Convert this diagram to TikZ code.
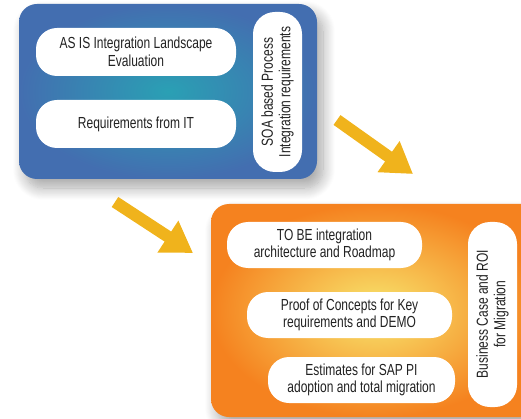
\documentclass[tikz,border=0pt]{standalone}
\usepackage{fontspec}
\setmainfont[FakeStretch=0.75]{Liberation Sans}
\usetikzlibrary{arrows.meta,shadows.blur}
\definecolor{bluein}{HTML}{2AA0B4}
\definecolor{blueout}{HTML}{436EB0}
\definecolor{orin}{HTML}{F8E66E}
\definecolor{orout}{HTML}{F5821F}
\definecolor{arrowc}{HTML}{F0B31C}
\definecolor{txt}{HTML}{222222}
\tikzset{
  panel/.style={rounded corners=18pt, blur shadow={shadow xshift=6pt, shadow yshift=-9pt, shadow blur radius=12pt, shadow blur steps=14, shadow opacity=35}},
  pill/.style={fill=white, rounded corners=21pt},
  vpill/.style={fill=white, rounded corners=22pt},
  lbl/.style={text=txt, align=center, font=\fontsize{16}{17.5}\selectfont, inner sep=0pt},
  bigarrow/.style={draw=arrowc, line width=12pt, -{Triangle[length=30pt,width=36pt]}},
}
\begin{document}
\begin{tikzpicture}[x=1pt,y=-1pt]
\useasboundingbox (0,0) rectangle (521,419);
% blue panel
\shade[panel, inner color=bluein, outer color=blueout] (19,4) rectangle (317,179);
% orange panel
\shade[panel, inner color=orin, outer color=orout] (211,204) rectangle (540,417);
% blue pills
\fill[pill] (36,28) rectangle (236,76);
\node[lbl] (asis) at (136,52) {AS IS Integration Landscape\\Evaluation};
\fill[pill] (36,100) rectangle (236,148);
\node[lbl] (req) at (136,124) {Requirements from IT};
\fill[vpill] (253,12) rectangle (302,172);
\node[lbl, rotate=90] (soa) at (277.5,92) {SOA based Process\\Integration requirements};
% orange pills
\fill[pill] (227,222) rectangle (422,268);
\node[lbl] (tobe) at (324.5,245) {TO BE integration\\architecture and Roadmap};
\fill[pill] (247,292) rectangle (452,338);
\node[lbl] (poc) at (349.5,315) {Proof of Concepts for Key\\requirements and DEMO};
\fill[pill] (268,357) rectangle (455,403);
\node[lbl] (est) at (361.5,380) {Estimates for SAP PI\\adoption and total migration};
\fill[vpill] (468,222) rectangle (517,407);
\node[lbl, rotate=90] (bc) at (492.5,314) {Business Case and ROI\\for Migration};
% arrows
\coordinate (a1s) at (337,120);
\coordinate (a1e) at (413,174);
\coordinate (a2s) at (115,202);
\coordinate (a2e) at (193,253);
\draw[bigarrow] (a1s) -- (a1e);
\draw[bigarrow] (a2s) -- (a2e);
\end{tikzpicture}
\end{document}
